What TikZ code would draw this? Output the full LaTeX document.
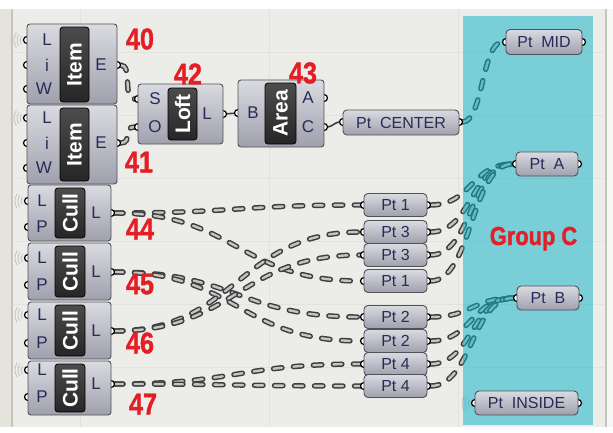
\documentclass[tikz,border=0pt]{standalone}
\usepackage{fontspec}
\setmainfont{Liberation Sans}
\newfontfamily\redfont{Liberation Sans}[FakeStretch=0.84,FakeBold=1.2]
\pgfdeclarelayer{bglayer}
\pgfdeclarelayer{wirelayer}
\pgfdeclarelayer{grouplayer}
\pgfsetlayers{bglayer,wirelayer,grouplayer,main}
\definecolor{bgc}{HTML}{ECEDE9}
\definecolor{stripc}{HTML}{E4E4DC}
\definecolor{gridc}{HTML}{E2E3DE}
\definecolor{edgec}{HTML}{C4C4BC}
\definecolor{boxtop}{HTML}{DADAE1}
\definecolor{boxbot}{HTML}{A0A0AD}
\definecolor{boxline}{HTML}{505057}
\definecolor{lblc}{HTML}{2A2A58}
\definecolor{darktop}{HTML}{4C4C4C}
\definecolor{darkbot}{HTML}{262626}
\definecolor{redc}{HTML}{E31E24}
\definecolor{groupc}{HTML}{0AB1C8}
\definecolor{wiredark}{HTML}{3E3E3E}
\definecolor{wirelight}{HTML}{C4C4C4}
\definecolor{ripplec}{HTML}{C0C0BA}
\tikzset{
  comp/.style={draw=boxline, line width=0.9pt, rounded corners=3pt, top color=boxtop, bottom color=boxbot, inner sep=0pt, outer sep=0pt, anchor=north west},
  darklbl/.style={draw=black, line width=0.8pt, rounded corners=3pt, top color=darktop, bottom color=darkbot, text=white, font=\bfseries\fontsize{21}{21}\selectfont, inner sep=0pt, outer sep=0pt, rotate=90},
  port/.style={circle, draw=black, fill=white, line width=1.2pt, minimum size=7pt, inner sep=0pt, outer sep=0pt},
  ptbox/.style={draw=boxline, line width=0.9pt, rounded corners=4pt, top color=boxtop, bottom color=boxbot, inner sep=0pt, outer sep=0pt, text=lblc, font=\fontsize{16}{16}\selectfont},
  plbl/.style={text=lblc, font=\fontsize{17}{17}\selectfont, inner sep=0pt},
  redlbl/.style={text=redc, font=\redfont\bfseries\fontsize{30}{30}\selectfont, inner sep=0pt},
  grplbl/.style={text=redc, font=\redfont\bfseries\fontsize{26}{26}\selectfont, inner sep=0pt},
  groupbox/.style={fill=groupc, fill opacity=0.5, inner sep=0pt, outer sep=0pt, anchor=north west},
  wire/.style={preaction={draw=wiredark, line width=5.4pt, dash pattern=on 8.5pt off 11.5pt, line cap=round}, draw=wirelight, line width=2.4pt, dash pattern=on 8.5pt off 11.5pt, line cap=round},
  solidwire/.style={draw=wiredark, line width=1.6pt},
  ripple/.style={draw=ripplec, line width=0.7pt},
}
\begin{document}
\begin{tikzpicture}[x=1pt,y=-1pt]
\useasboundingbox (0,0) rectangle (613,432);
% ---------- background ----------
\begin{pgfonlayer}{bglayer}
\fill[bgc] (0,0) rectangle (613,432);
\fill[stripc] (0,9) rectangle (12,427);
\fill[white!60!bgc] (606,9) rectangle (613,427);
\foreach \gx in {80,269,458} \draw[gridc, line width=0.8pt] (\gx,9) -- (\gx,427);
\foreach \gy in {52,115,178,241,304,367} \draw[gridc, line width=0.8pt] (12,\gy) -- (606,\gy);
\fill[white] (0,0) rectangle (613,9);
\fill[white] (0,427) rectangle (613,432);
\draw[edgec, line width=1.2pt] (12,9) -- (12,427);
\draw[edgec, line width=1.2pt] (606,9) -- (606,427);
\foreach \cx/\cy in {27/40, 27/118, 28/201, 28/258, 28/315, 28/370, 475/403}
  \foreach \r in {7,10,13}
    \draw[ripple] (\cx,\cy) ++(145:\r) arc (145:215:\r);
\end{pgfonlayer}
% ---------- ports ----------
\node[port] (i40L) at (27,40) {};
\node[port] (i40i) at (27,65) {};
\node[port] (i40W) at (27,89) {};
\node[port] (i40E) at (117,65) {};
\node[port] (i41L) at (27,118) {};
\node[port] (i41i) at (27,143) {};
\node[port] (i41W) at (27,168) {};
\node[port] (i41E) at (117,143) {};
\node[port] (loS) at (138,99) {};
\node[port] (loO) at (138,127) {};
\node[port] (loL) at (223,114) {};
\node[port] (arB) at (238,113) {};
\node[port] (arA) at (324,98) {};
\node[port] (arC) at (324,127) {};
\node[port] (pcI) at (343,122) {};
\node[port] (pcO) at (459,122) {};
\node[port] (c44L) at (28,201) {};
\node[port] (c44P) at (28,227) {};
\node[port] (c44O) at (111,213) {};
\node[port] (c45L) at (28,258) {};
\node[port] (c45P) at (28,285) {};
\node[port] (c45O) at (111,272) {};
\node[port] (c46L) at (28,315) {};
\node[port] (c46P) at (28,343) {};
\node[port] (c46O) at (111,331) {};
\node[port] (c47L) at (28,370) {};
\node[port] (c47P) at (28,397) {};
\node[port] (c47O) at (111,384) {};
\foreach \nm/\yy in {p1a/205, p3a/232, p3b/255, p1b/281, p2a/317, p2b/341, p4a/364, p4b/386} {
  \node[port] (\nm i) at (364,\yy) {};
  \node[port] (\nm o) at (427,\yy) {};
}
\node[port] (pmI) at (506,42) {};
\node[port] (pmO) at (582,42) {};
\node[port] (paI) at (516,164) {};
\node[port] (paO) at (578,164) {};
\node[port] (pbI) at (517,298) {};
\node[port] (pbO) at (579,298) {};
\node[port] (pinI) at (475,403) {};
\node[port] (pinO) at (578,403) {};
% ---------- components ----------
\node[comp, minimum width=90pt, minimum height=80pt] (item40) at (27,24) {};
\node[darklbl, minimum width=75pt, minimum height=29pt] (item40t) at (74.5,64.5) {Item};
\node[plbl] (item40l1) at (47,40) {L};
\node[plbl] (item40l2) at (47,65) {i};
\node[plbl] (item40l3) at (44,89) {W};
\node[plbl] (item40l4) at (101,65) {E};
\node[comp, minimum width=90pt, minimum height=79pt] (item41) at (27,105) {};
\node[darklbl, minimum width=73pt, minimum height=29pt] (item41t) at (74.5,144.5) {Item};
\node[plbl] (item41l1) at (47,118) {L};
\node[plbl] (item41l2) at (47,143) {i};
\node[plbl] (item41l3) at (44,168) {W};
\node[plbl] (item41l4) at (101,143) {E};
\node[comp, minimum width=85pt, minimum height=60pt] (loft) at (138,84) {};
\node[darklbl, minimum width=52pt, minimum height=29pt] (loftt) at (182.5,114) {Loft};
\node[plbl] (loftl1) at (155,99) {S};
\node[plbl] (loftl2) at (155,127) {O};
\node[plbl] (loftl3) at (207,114) {L};
\node[comp, minimum width=86pt, minimum height=67pt] (area) at (238,80) {};
\node[darklbl, minimum width=61pt, minimum height=31pt] (areat) at (280.5,113.5) {Area};
\node[plbl] (areal1) at (253,113) {B};
\node[plbl] (areal2) at (308,98) {A};
\node[plbl] (areal3) at (308,127) {C};
\foreach \nm/\yt/\hh in {c44/185/56, c45/243/57, c46/302/57, c47/361/54} {
  \node[comp, minimum width=83pt, minimum height=\hh pt] (\nm) at (28,\yt) {};
  \node[darklbl, minimum width=\hh pt - 6pt, minimum height=30pt] (\nm t) at (70,\yt+\hh/2) {Cull};
}
\node[plbl] (c44l1) at (42,201) {L};
\node[plbl] (c44l2) at (42,227) {P};
\node[plbl] (c44l3) at (96,213) {L};
\node[plbl] (c45l1) at (42,258) {L};
\node[plbl] (c45l2) at (42,285) {P};
\node[plbl] (c45l3) at (96,272) {L};
\node[plbl] (c46l1) at (42,315) {L};
\node[plbl] (c46l2) at (42,343) {P};
\node[plbl] (c46l3) at (96,331) {L};
\node[plbl] (c47l1) at (42,370) {L};
\node[plbl] (c47l2) at (42,397) {P};
\node[plbl] (c47l3) at (96,384) {L};
% ---------- point parameters ----------
\node[ptbox, minimum width=116pt, minimum height=25pt] (pc) at (401,122.5) {Pt~~CENTER};
\foreach \nm/\yy/\tx in {p1a/205/1, p3a/232/3, p3b/255/3, p1b/281/1, p2a/317/2, p2b/341/2, p4a/364/4, p4b/386/4}
  \node[ptbox, minimum width=63pt, minimum height=23pt] (\nm) at (395.5,\yy) {Pt \tx};
\node[ptbox, minimum width=76pt, minimum height=25pt] (pm) at (544,42) {Pt~~MID};
\node[ptbox, minimum width=62pt, minimum height=24pt] (pa) at (547,164) {Pt~~A};
\node[ptbox, minimum width=62pt, minimum height=24pt] (pb) at (548,298) {Pt~~B};
\node[ptbox, minimum width=103pt, minimum height=24pt] (pin) at (526.5,403) {Pt~~INSIDE};
% ---------- group ----------
\begin{pgfonlayer}{grouplayer}
\node[groupbox, minimum width=130pt, minimum height=409pt] (grp) at (463,16) {};
\end{pgfonlayer}
\node[grplbl, anchor=base] (grpt) at (533.5,245) {Group C};
% ---------- wires ----------
\begin{pgfonlayer}{wirelayer}
\draw[wire] (i40E) .. controls +(16,0) and +(-16,0) .. (loS);
\draw[wire] (i41E) .. controls +(16,0) and +(-16,0) .. (loO);
\draw[solidwire] (loL) -- (arB);
\draw[solidwire] (arC) .. controls +(8,0) and +(-8,0) .. (pcI);
\draw[wire] (pcO) .. controls +(24,0) and +(-24,0) .. (pmI);
\draw[wire] (c44O) .. controls +(125,0) and +(-125,0) .. (p1ai);
\draw[wire] (c44O) .. controls +(125,0) and +(-125,0) .. (p1bi);
\draw[wire] (c45O) .. controls +(125,0) and +(-125,0) .. (p2ai);
\draw[wire] (c45O) .. controls +(125,0) and +(-125,0) .. (p2bi);
\draw[wire] (c46O) .. controls +(125,0) and +(-125,0) .. (p3ai);
\draw[wire] (c46O) .. controls +(125,0) and +(-125,0) .. (p3bi);
\draw[wire] (c47O) .. controls +(125,0) and +(-125,0) .. (p4ai);
\draw[wire] (c47O) .. controls +(125,0) and +(-125,0) .. (p4bi);
\foreach \src in {p1a,p3a,p3b,p1b}
  \draw[wire] (\src o) .. controls +(45,0) and +(-45,0) .. (paI);
\foreach \src in {p2a,p2b,p4a,p4b}
  \draw[wire] (\src o) .. controls +(45,0) and +(-45,0) .. (pbI);
\end{pgfonlayer}
% ---------- red labels ----------
\node[redlbl] (n40) at (140,39) {40};
\node[redlbl] (n41) at (139,162) {41};
\node[redlbl] (n42) at (188,74) {42};
\node[redlbl] (n43) at (303,73) {43};
\node[redlbl] (n44) at (140,229) {44};
\node[redlbl] (n45) at (140,284) {45};
\node[redlbl] (n46) at (140,343) {46};
\node[redlbl] (n47) at (143,404) {47};
\end{tikzpicture}
\end{document}
